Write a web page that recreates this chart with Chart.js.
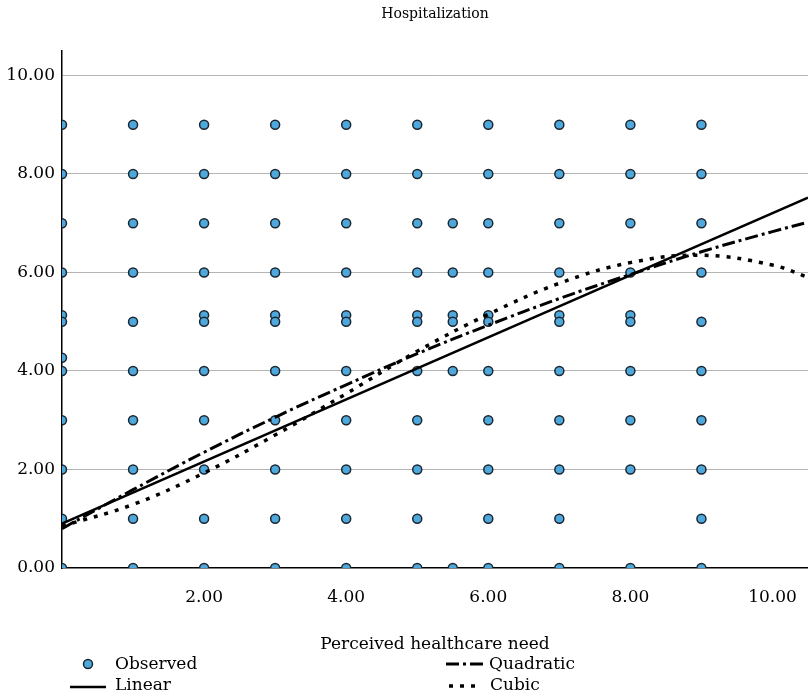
<!DOCTYPE html>
<html>
<head>
<meta charset="utf-8">
<script src="https://cdn.jsdelivr.net/npm/chart.js@4.4.1/dist/chart.umd.min.js"></script>
<style>
  html, body { margin: 0; padding: 0; background: #fff; overflow: hidden; }
  #wrap { position: relative; width: 808px; height: 699px; }
  #c { display: block; }
</style>
</head>
<body>
<div id="wrap"><canvas id="c"></canvas></div>
<script>
// perceived healthcare need levels (x) and observed hospitalization values at each
const needLevels = [0, 1, 2, 3, 4, 5, 5.5, 6, 7, 8, 9];
const hospByNeed = [
  [9, 8, 7, 6, 5.13, 5, 4.27, 4, 3, 2, 1, 0],
  [9, 8, 7, 6, 5, 4, 3, 2, 1, 0],
  [9, 8, 7, 6, 5.13, 5, 4, 3, 2, 1, 0],
  [9, 8, 7, 6, 5.13, 5, 4, 3, 2, 1, 0],
  [9, 8, 7, 6, 5.13, 5, 4, 3, 2, 1, 0],
  [9, 8, 7, 6, 5.13, 5, 4, 3, 2, 1, 0],
  [7, 6, 5.13, 5, 4, 0],
  [9, 8, 7, 6, 5.13, 5, 4, 3, 2, 1, 0],
  [9, 8, 7, 6, 5.13, 5, 4, 3, 2, 1, 0],
  [9, 8, 7, 6, 5.13, 5, 4, 3, 2, 0],
  [9, 8, 7, 6, 5, 4, 3, 2, 1, 0]
];

// fitted curves
const linearX = [0, 10.5];
const linearY = [0.9, 7.52];
const fitX = [0, 1, 2, 3, 4, 5, 6, 7, 8, 9, 10, 10.5];
const quadY = [0.80, 1.59, 2.35, 3.06, 3.72, 4.35, 4.93, 5.47, 5.96, 6.42, 6.83, 7.02];
const cubicY = [0.85, 1.29, 1.93, 2.70, 3.54, 4.40, 5.15, 5.78, 6.20, 6.35, 6.15, 5.90];

const xTicks = [2, 4, 6, 8, 10];
const yTicks = [0, 2, 4, 6, 8, 10];

const FONT = '"DejaVu Serif", serif';
const DOT_FILL = '#4ea8dc';
const DOT_EDGE = '#1b2630';

const observed = [];
needLevels.forEach((x, i) => hospByNeed[i].forEach(y => observed.push({ x: x, y: y })));
const pts = (xs, ys) => xs.map((x, i) => ({ x: x, y: ys[i] }));

const legendPlugin = {
  id: 'fitLegend',
  afterDraw(chart) {
    const ctx = chart.ctx;
    const ds = chart.data.datasets;
    ctx.save();
    ctx.font = '17px ' + FONT;
    ctx.fillStyle = '#000';
    ctx.textBaseline = 'middle';
    ctx.textAlign = 'left';

    // Observed
    ctx.beginPath();
    ctx.arc(88, 664, 4.5, 0, Math.PI * 2);
    ctx.fillStyle = DOT_FILL;
    ctx.fill();
    ctx.lineWidth = 1.5;
    ctx.strokeStyle = DOT_EDGE;
    ctx.stroke();
    ctx.fillStyle = '#000';
    ctx.fillText(ds[3].label, 115, 665);

    const sample = (x0, x1, y, d) => {
      ctx.beginPath();
      ctx.setLineDash(d.borderDash || []);
      ctx.lineWidth = d.borderWidth;
      ctx.strokeStyle = '#000';
      ctx.moveTo(x0, y);
      ctx.lineTo(x1, y);
      ctx.stroke();
    };
    sample(70, 106, 687, ds[0]);
    ctx.fillText(ds[0].label, 115, 686);
    sample(446, 486, 664, ds[1]);
    ctx.fillText(ds[1].label, 489, 665);
    sample(449, 475, 686, ds[2]);
    ctx.fillText(ds[2].label, 490, 686);
    ctx.restore();
  }
};

new Chart(document.getElementById('c'), {
  type: 'scatter',
  data: {
    datasets: [
      {
        label: 'Linear',
        data: pts(linearX, linearY),
        showLine: true,
        borderColor: '#000',
        borderWidth: 2.5,
        pointRadius: 0,
        order: 1
      },
      {
        label: 'Quadratic',
        data: pts(fitX, quadY),
        showLine: true,
        borderColor: '#000',
        borderWidth: 3,
        borderDash: [13, 4, 3, 4],
        tension: 0.4,
        pointRadius: 0,
        order: 2
      },
      {
        label: 'Cubic',
        data: pts(fitX, cubicY),
        showLine: true,
        borderColor: '#000',
        borderWidth: 3.5,
        borderDash: [4, 7],
        tension: 0.4,
        pointRadius: 0,
        order: 3
      },
      {
        label: 'Observed',
        data: observed,
        backgroundColor: DOT_FILL,
        borderColor: DOT_EDGE,
        borderWidth: 1.5,
        pointRadius: 4.5,
        clip: { left: 0, top: 0, right: 0, bottom: 0 },
        order: 4
      }
    ]
  },
  options: {
    responsive: true,
    maintainAspectRatio: false,
    animation: false,
    layout: { autoPadding: false, padding: { left: 0, right: 0, top: 0, bottom: 44 } },
    plugins: {
      legend: { display: false },
      tooltip: { enabled: false },
      title: {
        display: true,
        text: 'Hospitalization',
        fullSize: false,
        color: '#000',
        font: { family: FONT, size: 14, weight: 'normal' },
        padding: { top: 6, bottom: 28 }
      }
    },
    scales: {
      x: {
        type: 'linear',
        min: 0,
        max: 10.5,
        afterBuildTicks: s => { s.ticks = xTicks.map(v => ({ value: v })); },
        afterFit: s => { s.height = 87; s.paddingRight = 0; },
        grid: { display: false, drawTicks: false },
        border: { color: '#000', width: 1.5 },
        ticks: {
          padding: 19,
          color: '#000',
          font: { family: FONT, size: 17 },
          maxRotation: 0,
          callback: v => Number(v).toFixed(2)
        },
        title: {
          display: true,
          text: 'Perceived healthcare need',
          color: '#000',
          font: { family: FONT, size: 17 },
          padding: 0
        }
      },
      y: {
        type: 'linear',
        min: 0,
        max: 10.5,
        afterBuildTicks: s => { s.ticks = yTicks.map(v => ({ value: v })); },
        afterFit: s => { s.width = 62; },
        grid: {
          drawTicks: false,
          lineWidth: 1,
          color: c => (c.tick && c.tick.value === 0 ? 'rgba(0,0,0,0)' : '#b4b4b4')
        },
        border: { color: '#000', width: 1.5 },
        ticks: {
          padding: 7,
          color: '#000',
          font: { family: FONT, size: 17 },
          callback: v => Number(v).toFixed(2)
        }
      }
    }
  },
  plugins: [legendPlugin]
});
</script>
</body>
</html>
